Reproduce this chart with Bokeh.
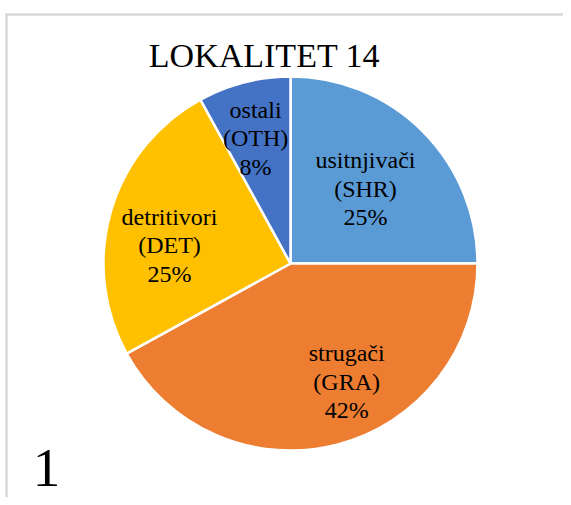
import math
from bokeh.plotting import figure
from bokeh.models import Range1d, ColumnDataSource
from bokeh.core.properties import value
from bokeh.embed import file_html
from bokeh.resources import INLINE

# ---- data ----
categories = ["usitnjivači\n(SHR)", "strugači\n(GRA)", "detritivori\n(DET)", "ostali\n(OTH)"]
percents = [25, 42, 25, 8]
colors = ["#5B9BD5", "#ED7D31", "#FFC000", "#4472C4"]
title_text = "LOKALITET 14"
corner_text = "1"

# ---- layout constants ----
W, H = 563, 497
cx, cy, r = 290, H - 263, 187
label_rfrac = [0.567, 0.70, 0.654, 0.694]
label_shift_deg = [0.0, 11.0, 7.7, 1.2]

total = sum(percents)
starts, ends, lx, ly, labels = [], [], [], [], []
cum = 0.0
for i, v in enumerate(percents):
    a0 = math.pi / 2 - 2 * math.pi * cum / total
    cum += v
    a1 = math.pi / 2 - 2 * math.pi * cum / total
    starts.append(a0)
    ends.append(a1)
    mid = (a0 + a1) / 2 + math.radians(label_shift_deg[i])
    lx.append(cx + r * label_rfrac[i] * math.cos(mid))
    ly.append(cy + r * label_rfrac[i] * math.sin(mid))
    labels.append(f"{categories[i]}\n{v}%")

src = ColumnDataSource(dict(start=starts, end=ends, color=colors))
lsrc = ColumnDataSource(dict(x=lx, y=ly, text=labels))

p = figure(width=W, height=H, output_backend="svg", toolbar_location=None,
           x_range=Range1d(0, W), y_range=Range1d(0, H),
           min_border=0, outline_line_color=None)
p.axis.visible = False
p.grid.visible = False
p.background_fill_color = "white"
p.border_fill_color = "white"

# frame lines
p.line([6, 6], [0, H - 13], line_color="#D9D9D9", line_width=2.5)
p.line([5, W], [H - 14, H - 14], line_color="#D9D9D9", line_width=2.5)

p.wedge(x=cx, y=cy, radius=r, start_angle="start", end_angle="end",
        direction="clock", fill_color="color", line_color="white",
        line_width=2.5, source=src)

p.text(x="x", y="y", text="text", source=lsrc, text_align="center",
       text_baseline="middle", text_font=value("Liberation Serif"),
       text_font_size="24px", text_line_height=1.1, text_color="black")

p.text(x=[264], y=[H - 55], text=[title_text], text_align="center",
       text_baseline="middle", text_font=value("Liberation Serif"),
       text_font_size="34px", text_color="black")

p.text(x=[46], y=[H - 467], text=[corner_text], text_align="center",
       text_baseline="middle", text_font=value("Liberation Serif"),
       text_font_size="55px", text_color="black")

open("out.html", "w").write(file_html(p, INLINE))
